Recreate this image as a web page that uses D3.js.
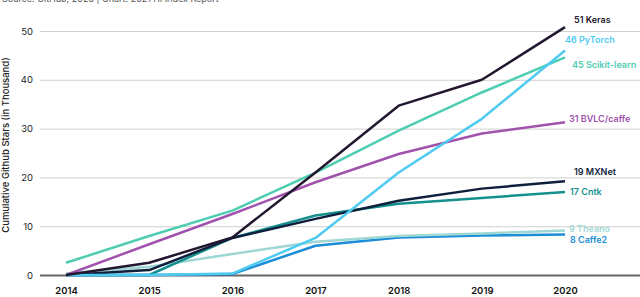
<!DOCTYPE html>
<html>
<head>
<meta charset="utf-8">
<script src="https://cdn.jsdelivr.net/npm/d3@7"></script>
<style>
  body { margin: 0; background: #fff; }
  svg { display: block; font-family: Inter, "Liberation Sans", sans-serif; }
</style>
</head>
<body>
<script>
// Cumulative GitHub stars (thousands), 2014-2020
var years = [2014, 2015, 2016, 2017, 2018, 2019, 2020];
var names = ["Keras", "PyTorch", "Scikit-learn", "BVLC/caffe", "MXNet", "Cntk", "Theano", "Caffe2"];
var keras   = [0, 2.5, 7.7, 21, 34.7, 40, 50.8];
var pytorch = [0, 0, 0.3, 7.6, 21, 32, 46];
var sklearn = [2.5, 8, 13.2, 21, 29.6, 37.4, 44.6];
var caffe   = [0, 6.3, 12.5, 19, 24.8, 29, 31.3];
var mxnet   = [0, 1.0, 7.6, 11.5, 15.2, 17.7, 19.2];
var cntk    = [0, 0, 7.6, 12.2, 14.6, 15.8, 17];
var theano  = [0.3, 1.7, 4.3, 6.8, 8, 8.5, 9.1];
var caffe2  = [0, 0, 0.2, 6, 7.7, 8.1, 8.3];
var labels  = ["51 Keras", "46 PyTorch", "45 Scikit-learn", "31 BVLC/caffe", "19 MXNet", "17 Cntk", "9 Theano", "8 Caffe2"];
var yTicks  = [0, 10, 20, 30, 40, 50];

var seriesValues = [keras, pytorch, sklearn, caffe, mxnet, cntk, theano, caffe2];
var colors = ["#22172f", "#4fcbf1", "#4fcdb2", "#a052ad", "#0f1e3b", "#14908f", "#9fd7d4", "#1c8dd6"];
// label nudges relative to the line end
var labelDx = [9, 0, 7, 4, 9, 5, 4, 5];
var labelDy = [-7, -11, 7, -3, -9, 0, -2, 5];

var width = 640, height = 297;
var svg = d3.select("body").append("svg")
    .attr("width", width)
    .attr("height", height);

var x = d3.scaleLinear()
    .domain([2014, 2020])
    .range([66, 565]);
var y = d3.scaleLinear()
    .domain([0, 50])
    .range([275, 31]);

// source line, cut off at the top like the original
svg.append("text")
    .attr("x", 2)
    .attr("y", 2)
    .attr("font-size", 9)
    .attr("fill", "#555")
    .text("Source: GitHub, 2020 | Chart: 2021 AI Index Report");

// grid
var yAxis = d3.axisLeft(y)
    .tickValues(yTicks)
    .tickSize(-600)
    .tickPadding(7);
var gy = svg.append("g")
    .attr("transform", "translate(40,0)")
    .call(yAxis);
gy.select(".domain").remove();
gy.selectAll(".tick line")
    .attr("stroke", function (d) { return d === 0 ? "#666" : "#d0d0d0"; })
    .attr("stroke-width", function (d) { return d === 0 ? 2 : 1; });
gy.selectAll(".tick text")
    .attr("font-size", 9.5)
    .attr("font-family", "Inter, sans-serif")
    .attr("fill", "#222");

// x axis labels
var xAxis = d3.axisBottom(x)
    .tickValues(years)
    .tickFormat(d3.format("d"))
    .tickSize(0)
    .tickPadding(0);
var gx = svg.append("g")
    .attr("transform", "translate(0,287)")
    .call(xAxis);
gx.select(".domain").remove();
gx.selectAll(".tick text")
    .attr("font-size", 9.5)
    .attr("font-weight", 600)
    .attr("font-family", "Inter, sans-serif")
    .attr("fill", "#111");

// axis title
svg.append("text")
    .attr("transform", "translate(9,145) rotate(-90)")
    .attr("text-anchor", "middle")
    .attr("font-size", 9.5)
    .attr("font-weight", 500)
    .attr("fill", "#222")
    .text("Cumulative Github Stars (in Thousand)");

var line = d3.line()
    .x(function (d, i) { return x(years[i]); })
    .y(function (d) { return y(d); });

// draw bottom series first so Keras is on top
var order = [7, 6, 5, 4, 3, 2, 1, 0];
svg.append("g").selectAll("path")
    .data(order)
    .enter().append("path")
    .attr("d", function (k) { return line(seriesValues[k]); })
    .attr("fill", "none")
    .attr("stroke", function (k) { return colors[k]; })
    .attr("stroke-width", 2.5)
    .attr("stroke-linejoin", "round");

svg.append("g").selectAll("text")
    .data(names)
    .enter().append("text")
    .attr("x", function (d, i) { return x(2020) + labelDx[i]; })
    .attr("y", function (d, i) { return y(seriesValues[i][6]) + labelDy[i]; })
    .attr("dy", "0.35em")
    .attr("font-size", 9)
    .attr("font-weight", 600)
    .attr("fill", function (d, i) { return colors[i]; })
    .text(function (d, i) { return labels[i]; });
</script>
</body>
</html>
